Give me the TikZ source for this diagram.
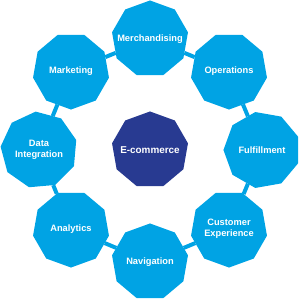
\documentclass[tikz,border=0pt]{standalone}
\usepackage{fontspec}
\setmainfont{Liberation Sans}
\usetikzlibrary{shapes.geometric}
\definecolor{lblue}{RGB}{0,163,228}
\definecolor{navy}{RGB}{40,58,145}
\tikzset{
  nona/.style={regular polygon, regular polygon sides=9, minimum size=2.57cm,
    inner sep=0pt, outer sep=0pt, fill=lblue},
  hub/.style={nona, fill=navy},
  txt/.style={text=white, inner sep=0pt, align=center,
    font=\fontsize{8.8}{10.5}\selectfont\bfseries},
  hubtxt/.style={txt, font=\fontsize{9.4}{11}\selectfont\bfseries},
  ring/.style={draw=lblue, line width=3.8pt}
}
\begin{document}
\begin{tikzpicture}[x=0.033333cm, y=-0.033333cm]
\useasboundingbox (0,0) rectangle (300,300);
\node[hub, label={[hubtxt]center:E-commerce}] (ec) at (150,150) {};
\node[nona, label={[txt]center:Merchandising}] (merch) at (150,39) {};
\node[nona, shape border rotate=20, label={[txt]center:Operations}] (ops) at (229,71) {};
\node[nona, shape border rotate=10, label={[txt]center:Fulfillment}] (ful) at (262,150) {};
\node[nona, shape border rotate=20, label={[txt]center:Customer\\Experience}] (cx) at (229,229) {};
\node[nona, label={[txt]center:Navigation}] (nav) at (150,262) {};
\node[nona, shape border rotate=20, label={[txt]center:Analytics}] (ana) at (71,229) {};
\node[nona, shape border rotate=5, label={[txt]center:Data\\Integration}] (di) at (39,150) {};
\node[nona, shape border rotate=20, label={[txt]center:Marketing}] (mkt) at (71,71) {};
\draw[ring] (merch) -- (ops);
\draw[ring] (ops) -- (ful);
\draw[ring] (ful) -- (cx);
\draw[ring] (cx) -- (nav);
\draw[ring] (nav) -- (ana);
\draw[ring] (ana) -- (di);
\draw[ring] (di) -- (mkt);
\draw[ring] (mkt) -- (merch);
\end{tikzpicture}
\end{document}
